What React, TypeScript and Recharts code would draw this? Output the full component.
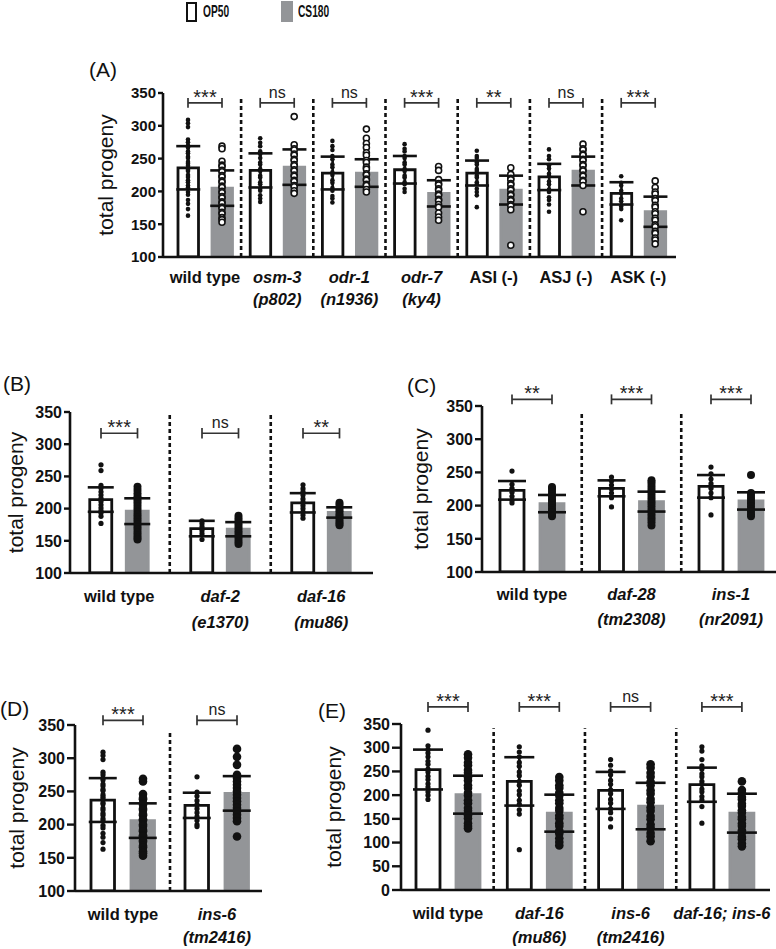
import React from 'react';
import { ComposedChart, Bar, Cell, ErrorBar, Scatter, XAxis, YAxis, ReferenceLine, Label } from 'recharts';

const FONT = "'Liberation Sans', Arial, Helvetica, sans-serif";
const GRAY = '#939598';
const INK = '#111111';

// ---------- Panel A ----------
const aGroups = [['wild type'], ['osm-3', '(p802)'], ['odr-1', '(n1936)'], ['odr-7', '(ky4)'], ['ASI (-)'], ['ASJ (-)'], ['ASK (-)']];
const aItalic = [false, true, true, true, false, false, false];
const aOpMean = [236, 232, 228, 233, 228, 222, 197];
const aOpSd = [33, 26, 25, 21, 19, 20, 17];
const aCsMean = [205, 237, 228, 197, 202, 231, 169];
const aCsSd = [27, 27, 21, 20, 22, 22, 23];
const aSig = ['***', 'ns', 'ns', '***', '**', 'ns', '***'];
const aOpDots = [
  [309, 304, 298, 279, 275, 270, 267, 261, 258, 253, 251, 245, 242, 239, 233, 231, 225, 222, 217, 214, 209, 206, 199, 195, 187, 181, 173, 163],
  [281, 274, 269, 261, 257, 251, 244, 241, 234, 231, 224, 221, 214, 211, 204, 201, 194, 189, 184],
  [277, 269, 263, 254, 249, 241, 237, 229, 225, 217, 213, 205, 201, 193, 189, 183],
  [272, 265, 261, 254, 251, 244, 241, 234, 231, 224, 221, 214, 211, 204, 199],
  [262, 254, 251, 244, 241, 234, 231, 224, 221, 214, 211, 204, 199, 194, 176],
  [264, 254, 249, 240, 235, 227, 223, 215, 211, 203, 199, 191, 187, 180, 169],
  [223, 213, 209, 201, 197, 189, 185, 177, 173, 156],
];
const aCsDots = [
  [269, 265, 246, 240, 238, 232, 230, 224, 222, 216, 214, 208, 206, 200, 198, 192, 190, 184, 182, 176, 174, 168, 166, 160, 157, 153],
  [314, 271, 265, 263, 257, 255, 249, 247, 241, 239, 233, 231, 225, 223, 217, 215, 209, 207, 201, 197],
  [295, 281, 273, 267, 259, 255, 247, 244, 237, 234, 227, 225, 219, 217, 211, 209, 203, 199],
  [238, 232, 218, 212, 210, 204, 202, 196, 194, 188, 186, 180, 176, 167, 161, 156],
  [236, 226, 220, 218, 212, 210, 204, 202, 196, 194, 188, 186, 180, 178, 172, 118],
  [272, 265, 263, 257, 255, 249, 247, 241, 239, 233, 231, 225, 223, 217, 215, 209, 169],
  [216, 206, 199, 196, 189, 186, 179, 176, 169, 166, 159, 156, 149, 146, 139, 136, 129, 126, 120],
];

// ---------- Panel B ----------
const bGroups = [['wild type'], ['daf-2', '(e1370)'], ['daf-16', '(mu86)']];
const bItalic = [false, true, true];
const bOpMean = [214, 169, 209];
const bOpSd = [19, 12, 15];
const bCsMean = [196, 168, 194];
const bCsSd = [20, 11, 8];
const bSig = ['***', 'ns', '**'];
const bOpDots = [
  [268, 259, 236, 232, 226, 221, 216, 211, 206, 201, 197, 193, 188, 177],
  [181, 177, 172, 166, 161, 152],
  [237, 231, 226, 221, 215, 210, 205, 200, 195, 190, 185],
];
const bCsDots = [
  [234, 229, 224, 219, 215, 211, 207, 203, 199, 195, 191, 187, 183, 179, 175, 171, 167, 163, 159, 155, 152],
  [189, 185, 181, 177, 173, 169, 165, 161, 157, 153, 149, 145],
  [209, 206, 202, 198, 195, 191, 188, 184, 180, 177, 174],
];

// ---------- Panel C ----------
const cGroups = [['wild type'], ['daf-28', '(tm2308)'], ['ins-1', '(nr2091)']];
const cItalic = [false, true, true];
const cOpMean = [223, 226, 229];
const cOpSd = [14, 12, 17];
const cCsMean = [203, 206, 207];
const cCsSd = [13, 15, 13];
const cSig = ['**', '***', '***'];
const cOpDots = [
  [252, 232, 226, 220, 214, 208, 204],
  [243, 237, 231, 225, 219, 212, 198],
  [258, 248, 240, 233, 226, 219, 212, 186],
];
const cCsDots = [
  [228, 225, 221, 217, 214, 210, 207, 203, 200, 196, 193, 190, 186, 184],
  [238, 235, 231, 227, 223, 219, 215, 211, 207, 203, 199, 195, 191, 187, 183, 179, 175, 170],
  [246, 219, 215, 211, 207, 203, 199, 195, 191, 187, 184],
];

// ---------- Panel D ----------
const dGroups = [['wild type'], ['ins-6', '(tm2416)']];
const dItalic = [false, true];
const dOpMean = [237, 229];
const dOpSd = [33, 19];
const dCsMean = [206, 247];
const dCsSd = [26, 26];
const dSig = ['***', 'ns'];
const dOpDots = [
  [309, 304, 298, 279, 275, 270, 267, 261, 258, 253, 251, 245, 242, 239, 233, 231, 225, 222, 217, 214, 209, 206, 199, 195, 187, 181, 173, 163],
  [272, 249, 243, 236, 230, 224, 218, 212, 206, 200, 197],
];
const dCsDots = [
  [269, 265, 246, 240, 238, 232, 230, 224, 222, 216, 214, 208, 206, 200, 198, 192, 190, 184, 182, 176, 174, 168, 166, 160, 157, 153],
  [314, 302, 290, 275, 270, 265, 260, 255, 250, 245, 240, 235, 230, 225, 220, 215, 210, 205, 182],
];

// ---------- Panel E ----------
const eGroups = [['wild type'], ['daf-16', '(mu86)'], ['ins-6', '(tm2416)'], ['daf-16; ins-6']];
const eItalic = [false, true, true, true];
const eOpMean = [254, 229, 210, 222];
const eOpSd = [42, 51, 39, 36];
const eCsMean = [201, 162, 177, 162];
const eCsSd = [40, 39, 49, 41];
const eSig = ['***', '***', 'ns', '***'];
const eOpDots = [
  [337, 304, 296, 289, 281, 271, 265, 255, 249, 240, 233, 224, 217, 207, 200, 191],
  [302, 291, 281, 269, 261, 249, 241, 229, 221, 209, 201, 189, 181, 169, 160, 85],
  [275, 263, 251, 243, 231, 223, 211, 203, 191, 183, 171, 163, 150, 133],
  [302, 293, 275, 262, 255, 245, 239, 229, 223, 213, 207, 197, 190, 176, 141],
];
const eCsDots = [
  [286, 279, 269, 263, 253, 247, 237, 231, 221, 215, 205, 199, 189, 183, 173, 167, 157, 151, 141, 135, 130],
  [238, 231, 221, 215, 205, 199, 189, 183, 173, 167, 157, 151, 141, 135, 125, 119, 109, 101, 94],
  [265, 258, 247, 239, 228, 221, 210, 203, 192, 185, 174, 167, 156, 149, 138, 131, 120, 113, 103],
  [229, 211, 205, 196, 191, 182, 177, 168, 163, 154, 149, 140, 135, 126, 121, 112, 107, 98, 92],
];

const ticks100 = [100, 150, 200, 250, 300, 350];
const ticks0 = [0, 50, 100, 150, 200, 250, 300, 350];

type Cfg = {
  left: number; top: number; width: number; height: number;
  axisX: number; axisRight: number; plotTop: number; plotBottom: number;
  firstBar: number; pair: number; pitch: number; barSize: number; capW: number;
  yDomain: [number, number]; yTicks: number[]; yTickSize: number; tickFont: number;
  bracketY: number; capH: number; sepTop: number; csOpen: boolean; opR: number; csR: number;
  ylabX: number; base1: number; base2: number;
};

type PanelProps = {
  cfg: Cfg; groups: string[][]; italic: boolean[];
  opMean: number[]; opSd: number[]; csMean: number[]; csSd: number[];
  sig: string[]; opDots: number[][]; csDots: number[][];
};

function Panel({ cfg, groups, italic, opMean, opSd, csMean, csSd, sig, opDots, csDots }: PanelProps) {
  const c = cfg;
  const plotRight = Math.min(c.axisRight, c.left + c.width);
  const u0 = (c.firstBar - c.axisX) / c.pair;
  const step = c.pitch / c.pair;
  const xOf = (g: number, j: number) => u0 + g * step + j;
  const dMax = (plotRight - c.axisX) / c.pair;
  const rows: { x: number; mean: number; sd: number; cs: boolean }[] = [];
  groups.forEach((_, g) => {
    rows.push({ x: xOf(g, 0), mean: opMean[g], sd: opSd[g], cs: false });
    rows.push({ x: xOf(g, 1), mean: csMean[g], sd: csSd[g], cs: true });
  });
  const opPts = opDots.flatMap((arr, g) => arr.map((v) => ({ x: xOf(g, 0), y: v })));
  const csPts = csDots.flatMap((arr, g) => arr.map((v) => ({ x: xOf(g, 1), y: v })));
  const seps = groups.slice(1).map((_, i) => (xOf(i, 1) + xOf(i + 1, 0)) / 2);
  const axisH = 8;
  const labH = c.height - (c.plotBottom - c.top) - axisH;
  const yMin = c.yDomain[0];

  const groupTick = (p: any) => {
    const idx = p.index;
    const lines = groups[idx] || [];
    return (
      <g>
        {lines.map((t, i) => (
          <text
            key={i}
            x={p.x}
            y={p.y + (i === 0 ? c.base1 : c.base2) - axisH}
            textAnchor="middle"
            fontSize={16.5}
            fontWeight={700}
            fontStyle={italic[idx] ? 'italic' : 'normal'}
            fill={INK}
            fontFamily={FONT}
          >
            {t}
          </text>
        ))}
      </g>
    );
  };

  const yTick = (p: any) => (
    <text
      x={p.x}
      y={p.y}
      dy="0.36em"
      textAnchor="end"
      fontSize={c.tickFont}
      fontWeight={700}
      fill={INK}
      fontFamily={FONT}
    >
      {p.payload.value}
    </text>
  );

  const opShape = (p: any) => <circle cx={p.cx} cy={p.cy} r={c.opR} fill={INK} />;
  const csShape = (p: any) =>
    c.csOpen ? (
      <circle cx={p.cx} cy={p.cy} r={c.csR} fill="#ffffff" stroke={INK} strokeWidth={1.6} />
    ) : (
      <circle cx={p.cx} cy={p.cy} r={c.csR} fill={INK} />
    );

  const yLabel = (p: any) => {
    const vb = p.viewBox || { x: 0, y: 0, width: 0, height: 0 };
    const cx = c.ylabX - c.left;
    const cy = vb.y + vb.height / 2;
    return (
      <text
        x={cx}
        y={cy}
        transform={`rotate(-90 ${cx} ${cy})`}
        textAnchor="middle"
        dominantBaseline="central"
        fontSize={21}
        fill={INK}
        fontFamily={FONT}
      >
        total progeny
      </text>
    );
  };

  return (
    <div style={{ position: 'absolute', left: c.left, top: c.top }}>
      <ComposedChart
        width={c.width}
        height={c.height}
        data={rows}
        margin={{ top: c.plotTop - c.top, right: c.left + c.width - plotRight, bottom: 0, left: 0 }}
      >
        <XAxis
          xAxisId="b"
          type="number"
          dataKey="x"
          domain={[0, dMax]}
          ticks={rows.map((r) => r.x)}
          interval={0}
          allowDataOverflow
          tick={false}
          tickSize={5}
          height={axisH}
          axisLine={{ stroke: INK, strokeWidth: 2.6 }}
          tickLine={{ stroke: INK, strokeWidth: 2.4 }}
        />
        <XAxis
          xAxisId="l"
          type="number"
          dataKey="x"
          domain={[0, dMax]}
          ticks={groups.map((_, g) => xOf(g, 0.5))}
          interval={0}
          allowDataOverflow
          axisLine={false}
          tickLine={false}
          tickSize={0}
          tickMargin={0}
          height={labH}
          tick={groupTick}
        />
        <YAxis
          yAxisId="v"
          type="number"
          domain={c.yDomain}
          ticks={c.yTicks}
          interval={0}
          allowDataOverflow
          width={c.axisX - c.left}
          tickSize={c.yTickSize}
          tickMargin={2}
          axisLine={{ stroke: INK, strokeWidth: 2.6 }}
          tickLine={{ stroke: INK, strokeWidth: 2.4 }}
          tick={yTick}
          label={<Label content={yLabel} />}
        />
        <Bar xAxisId="b" yAxisId="v" dataKey="mean" barSize={c.barSize} isAnimationActive={false}>
          {rows.map((r, i) => (
            <Cell key={i} fill={r.cs ? GRAY : '#ffffff'} stroke={r.cs ? GRAY : INK} strokeWidth={2.8} />
          ))}
          <ErrorBar dataKey="sd" width={c.capW} strokeWidth={2.6} stroke={INK} direction="y" />
        </Bar>
        <Scatter xAxisId="b" yAxisId="v" data={opPts} dataKey="y" isAnimationActive={false} shape={opShape} />
        <Scatter xAxisId="b" yAxisId="v" data={csPts} dataKey="y" isAnimationActive={false} shape={csShape} />
        {seps.map((s, i) => (
          <ReferenceLine
            key={'s' + i}
            xAxisId="b"
            yAxisId="v"
            ifOverflow="visible"
            segment={[{ x: s, y: yMin }, { x: s, y: c.sepTop }]}
            stroke={INK}
            strokeWidth={2.6}
            strokeDasharray="4 3"
          />
        ))}
        {groups.map((_, g) => (
          <ReferenceLine
            key={'h' + g}
            xAxisId="b"
            yAxisId="v"
            ifOverflow="visible"
            segment={[{ x: xOf(g, 0), y: c.bracketY }, { x: xOf(g, 1), y: c.bracketY }]}
            stroke="#333333"
            strokeWidth={1.7}
            label={{
              value: sig[g],
              position: 'top',
              offset: sig[g] === 'ns' ? 5 : -1,
              fontSize: sig[g] === 'ns' ? 16 : 20,
              fill: '#222222',
              fontFamily: FONT,
            }}
          />
        ))}
        {groups.flatMap((_, g) =>
          [0, 1].map((j) => (
            <ReferenceLine
              key={'c' + g + '-' + j}
              xAxisId="b"
              yAxisId="v"
              ifOverflow="visible"
              segment={[{ x: xOf(g, j), y: c.bracketY - c.capH }, { x: xOf(g, j), y: c.bracketY + c.capH }]}
              stroke="#333333"
              strokeWidth={1.7}
            />
          ))
        )}
      </ComposedChart>
    </div>
  );
}

const cfgA: Cfg = {
  left: 60, top: 60, width: 640, height: 260, axisX: 163, axisRight: 676, plotTop: 93, plotBottom: 257,
  firstBar: 188, pair: 34, pitch: 72.2, barSize: 20.5, capW: 12, yDomain: [100, 350], yTicks: ticks100,
  yTickSize: 5, tickFont: 15, bracketY: 335, capH: 7.5, sepTop: 341, csOpen: true, opR: 2.3, csR: 3,
  ylabX: 105, base1: 26, base2: 48,
};
const cfgB: Cfg = {
  left: 0, top: 380, width: 390, height: 260, axisX: 70, axisRight: 373, plotTop: 412, plotBottom: 573,
  firstBar: 101, pair: 36.5, pitch: 101, barSize: 22, capW: 13, yDomain: [100, 350], yTicks: ticks100,
  yTickSize: 6, tickFont: 16, bracketY: 317, capH: 8, sepTop: 347, csOpen: false, opR: 2.6, csR: 4,
  ylabX: 15, base1: 29, base2: 55,
};
const cfgC: Cfg = {
  left: 380, top: 380, width: 396, height: 260, axisX: 482, axisRight: 777, plotTop: 406, plotBottom: 572,
  firstBar: 512, pair: 40, pitch: 99.5, barSize: 24, capW: 14, yDomain: [100, 350], yTicks: ticks100,
  yTickSize: 7, tickFont: 16, bracketY: 360, capH: 7.5, sepTop: 342, csOpen: false, opR: 2.6, csR: 4,
  ylabX: 420, base1: 28, base2: 53,
};
const cfgD: Cfg = {
  left: 0, top: 660, width: 300, height: 289, axisX: 75, axisRight: 262, plotTop: 725, plotBottom: 891,
  firstBar: 103, pair: 40, pitch: 94, barSize: 23.5, capW: 14, yDomain: [100, 350], yTicks: ticks100,
  yTickSize: 8, tickFont: 16, bracketY: 357, capH: 7.5, sepTop: 341, csOpen: false, opR: 2.6, csR: 4.3,
  ylabX: 16, base1: 29, base2: 52,
};
const cfgE: Cfg = {
  left: 300, top: 660, width: 476, height: 289, axisX: 401, axisRight: 770, plotTop: 724, plotBottom: 890,
  firstBar: 428, pair: 40, pitch: 91.3, barSize: 24, capW: 15, yDomain: [0, 350], yTicks: ticks0,
  yTickSize: 9, tickFont: 16, bracketY: 386, capH: 10.5, sepTop: 341, csOpen: false, opR: 2.6, csR: 4.3,
  ylabX: 333, base1: 29, base2: 53,
};

const panelLetter = (text: string, left: number, top: number) => (
  <div
    style={{ position: 'absolute', left, top, fontSize: 21, lineHeight: '20px', color: INK, fontFamily: FONT }}
  >
    {text}
  </div>
);

export default function App() {
  return (
    <div
      style={{ position: 'absolute', left: 0, top: 0, width: 776, height: 949, background: '#ffffff', fontFamily: FONT, overflow: 'hidden' }}
    >
      <div style={{ position: 'absolute', left: 186, top: 2, width: 11, height: 20, border: '2.5px solid #111', boxSizing: 'border-box', background: '#fff' }} />
      <div style={{ position: 'absolute', left: 203, top: 2, lineHeight: '20px', fontSize: 17, fontWeight: 'bold', color: INK, transform: 'scaleX(0.6)', transformOrigin: 'left center', whiteSpace: 'nowrap' }}>OP50</div>
      <div style={{ position: 'absolute', left: 281, top: 1, width: 12, height: 21, background: GRAY }} />
      <div style={{ position: 'absolute', left: 298, top: 2, lineHeight: '20px', fontSize: 17, fontWeight: 'bold', color: INK, transform: 'scaleX(0.6)', transformOrigin: 'left center', whiteSpace: 'nowrap' }}>CS180</div>

      <Panel cfg={cfgA} groups={aGroups} italic={aItalic} opMean={aOpMean} opSd={aOpSd} csMean={aCsMean} csSd={aCsSd} sig={aSig} opDots={aOpDots} csDots={aCsDots} />
      <Panel cfg={cfgB} groups={bGroups} italic={bItalic} opMean={bOpMean} opSd={bOpSd} csMean={bCsMean} csSd={bCsSd} sig={bSig} opDots={bOpDots} csDots={bCsDots} />
      <Panel cfg={cfgC} groups={cGroups} italic={cItalic} opMean={cOpMean} opSd={cOpSd} csMean={cCsMean} csSd={cCsSd} sig={cSig} opDots={cOpDots} csDots={cCsDots} />
      <Panel cfg={cfgD} groups={dGroups} italic={dItalic} opMean={dOpMean} opSd={dOpSd} csMean={dCsMean} csSd={dCsSd} sig={dSig} opDots={dOpDots} csDots={dCsDots} />
      <Panel cfg={cfgE} groups={eGroups} italic={eItalic} opMean={eOpMean} opSd={eOpSd} csMean={eCsMean} csSd={eCsSd} sig={eSig} opDots={eOpDots} csDots={eCsDots} />

      {panelLetter('(A)', 89, 60)}
      {panelLetter('(B)', 3, 374)}
      {panelLetter('(C)', 407, 376)}
      {panelLetter('(D)', 0, 699)}
      {panelLetter('(E)', 318, 701)}
    </div>
  );
}
